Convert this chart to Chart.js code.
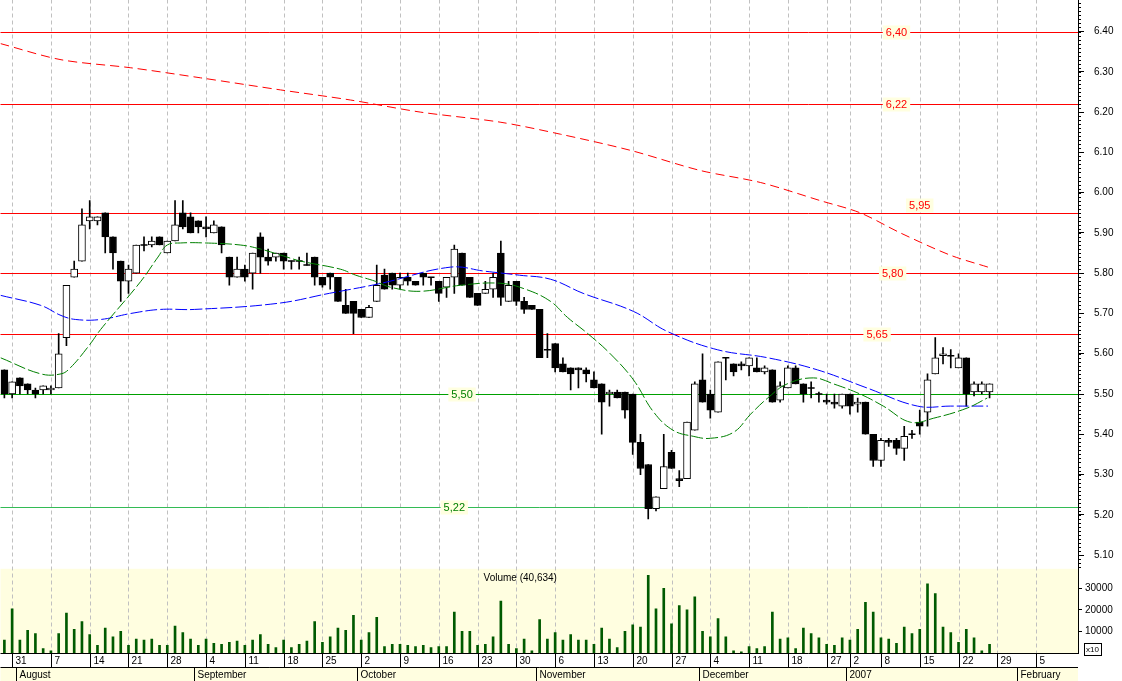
<!DOCTYPE html>
<html><head><meta charset="utf-8">
<script src="https://cdn.jsdelivr.net/npm/chart.js@4.4.1/dist/chart.umd.min.js"></script>
<style>html,body{margin:0;padding:0;background:#fff;overflow:hidden;}#wrap{width:1127px;height:687px;margin-left:-5px;margin-top:-6px;}</style>
</head><body><div id="wrap"><canvas id="c"></canvas></div>
<script>
// ---- data (trading-day index starts at -1 = Jul 28 2006) ----
const firstIndex = -1;
const opens = [5.56,5.50,5.54,5.525,5.51,5.51,5.51,5.515,5.64,5.79,5.83,5.93,5.93,5.95,5.89,5.83,5.78,5.80,5.87,5.87,5.89,5.85,5.88,5.95,5.94,5.93,5.915,5.90,5.915,5.84,5.79,5.81,5.80,5.89,5.84,5.84,5.85,5.83,5.83,5.82,5.84,5.79,5.80,5.79,5.72,5.73,5.71,5.69,5.73,5.795,5.80,5.77,5.79,5.78,5.80,5.79,5.78,5.765,5.79,5.85,5.79,5.75,5.75,5.76,5.85,5.73,5.78,5.73,5.72,5.71,5.61,5.625,5.575,5.565,5.565,5.56,5.535,5.525,5.50,5.505,5.505,5.50,5.38,5.325,5.215,5.265,5.355,5.29,5.29,5.41,5.535,5.50,5.455,5.59,5.575,5.575,5.57,5.565,5.555,5.56,5.485,5.515,5.565,5.525,5.515,5.50,5.485,5.48,5.47,5.50,5.475,5.48,5.40,5.335,5.385,5.385,5.365,5.40,5.43,5.455,5.55,5.595,5.595,5.565,5.59,5.505,5.505,5.505];
const highs = [5.56,5.53,5.54,5.525,5.515,5.52,5.52,5.65,5.77,5.83,5.96,5.98,5.94,5.95,5.89,5.83,5.82,5.87,5.89,5.89,5.89,5.88,5.98,5.98,5.95,5.93,5.94,5.93,5.915,5.84,5.84,5.82,5.85,5.90,5.86,5.85,5.85,5.83,5.84,5.85,5.84,5.79,5.80,5.79,5.76,5.73,5.71,5.72,5.82,5.81,5.80,5.80,5.80,5.78,5.80,5.79,5.78,5.79,5.87,5.85,5.79,5.75,5.78,5.80,5.88,5.78,5.78,5.74,5.72,5.71,5.65,5.625,5.59,5.565,5.565,5.565,5.555,5.525,5.51,5.51,5.505,5.50,5.40,5.325,5.245,5.40,5.36,5.31,5.43,5.53,5.60,5.51,5.58,5.59,5.575,5.58,5.59,5.59,5.57,5.56,5.53,5.57,5.57,5.525,5.53,5.505,5.50,5.50,5.50,5.50,5.49,5.48,5.40,5.39,5.39,5.39,5.42,5.41,5.46,5.55,5.64,5.615,5.61,5.60,5.59,5.53,5.53,5.525];
const lows = [5.49,5.49,5.50,5.50,5.49,5.50,5.50,5.515,5.62,5.79,5.83,5.91,5.92,5.85,5.81,5.73,5.75,5.80,5.855,5.865,5.87,5.85,5.88,5.91,5.90,5.90,5.89,5.90,5.85,5.77,5.79,5.78,5.76,5.80,5.82,5.83,5.81,5.81,5.81,5.82,5.77,5.765,5.76,5.73,5.70,5.65,5.69,5.69,5.73,5.76,5.76,5.76,5.77,5.77,5.77,5.77,5.73,5.74,5.75,5.77,5.74,5.72,5.75,5.74,5.72,5.73,5.72,5.70,5.71,5.59,5.59,5.555,5.555,5.51,5.515,5.53,5.515,5.40,5.47,5.49,5.44,5.35,5.30,5.19,5.21,5.265,5.315,5.27,5.29,5.41,5.48,5.44,5.455,5.535,5.545,5.56,5.545,5.555,5.55,5.48,5.48,5.515,5.525,5.48,5.49,5.48,5.475,5.465,5.465,5.45,5.455,5.40,5.32,5.32,5.37,5.35,5.335,5.39,5.40,5.42,5.55,5.575,5.565,5.565,5.47,5.495,5.50,5.49];
const closes = [5.50,5.53,5.52,5.51,5.50,5.52,5.515,5.60,5.77,5.81,5.92,5.94,5.94,5.89,5.85,5.78,5.81,5.87,5.87,5.88,5.87,5.88,5.92,5.915,5.90,5.915,5.91,5.92,5.87,5.79,5.81,5.79,5.85,5.84,5.83,5.85,5.83,5.83,5.83,5.82,5.79,5.77,5.79,5.73,5.70,5.70,5.69,5.715,5.77,5.76,5.77,5.79,5.78,5.77,5.79,5.79,5.75,5.79,5.86,5.77,5.74,5.72,5.76,5.79,5.74,5.77,5.73,5.71,5.71,5.59,5.61,5.565,5.555,5.55,5.56,5.55,5.515,5.48,5.505,5.49,5.46,5.38,5.315,5.215,5.245,5.32,5.315,5.285,5.43,5.525,5.48,5.46,5.58,5.59,5.555,5.57,5.59,5.555,5.565,5.48,5.52,5.565,5.525,5.50,5.515,5.50,5.48,5.475,5.50,5.47,5.48,5.40,5.335,5.385,5.38,5.365,5.395,5.40,5.42,5.535,5.59,5.60,5.595,5.59,5.50,5.525,5.525,5.525];
const volumes = [6000,20500,6000,10500,9000,2000,1000,9000,18500,11000,14500,8500,3500,11500,7500,10000,3500,6500,6000,6500,3500,3500,12500,9500,6500,3500,6500,4500,4000,5000,5500,3500,6000,8500,4000,2500,6000,2500,4000,5500,14500,5000,7500,11500,10500,17500,6000,9500,16500,3000,4000,4000,3500,3000,3500,2500,3000,3000,19000,10000,10000,3500,4000,7500,24000,4000,2000,6500,1000,15500,6500,9500,6000,8500,6000,6000,4000,11500,6500,2500,10000,13000,12000,36000,20500,30000,13500,22000,20000,26000,10000,7500,16000,7500,1000,500,3000,2000,3000,19000,6500,7000,2000,11500,9000,7000,4000,3500,7000,6000,11000,23500,19000,7000,6500,4500,12000,9000,11000,32000,27500,12000,9500,5000,11000,7000,1000,4000];
// moving averages, read at sparse trading-day positions
const maShortX = [-1.5,3.7,6.3,7.5,9.9,11.4,16.6,18.8,20,21.7,24.9,29.4,32,34.6,37.2,42.3,44.3,46.8,48.8,52.6,57.8,62.9,66.2,69.4,71.6,74.2,77.1,80.1,82.7,85.2,87.8,90,93,95.2,97.4,99.9,103.3,105.9,109.3,112.3,115.8,118.8,123.1,125.7];
const maShortY = [5.59,5.55,5.55,5.565,5.62,5.66,5.78,5.84,5.87,5.875,5.875,5.87,5.86,5.845,5.83,5.81,5.795,5.78,5.765,5.755,5.77,5.775,5.76,5.73,5.69,5.65,5.60,5.535,5.455,5.41,5.395,5.39,5.405,5.45,5.49,5.525,5.54,5.525,5.50,5.47,5.43,5.44,5.465,5.49];
const maMidX = [-1.5,3.7,6.3,8.2,11.4,15.3,19.1,23.5,34.2,40.9,47.6,56.5,60.9,65.4,69.4,73.6,80.1,84.5,90.9,97.4,103.8,110.2,116.7,121,125.8];
const maMidY = [5.745,5.72,5.695,5.685,5.685,5.70,5.71,5.71,5.725,5.75,5.775,5.815,5.805,5.795,5.785,5.75,5.705,5.655,5.61,5.59,5.56,5.515,5.47,5.47,5.47];
const maLongX = [-1.5,6.3,15.3,24.3,34.6,43.6,52.6,62.9,70.7,79.7,88.7,96.5,104.2,109.3,114.5,120.9,125.8];
const maLongY = [6.37,6.33,6.31,6.285,6.255,6.23,6.20,6.175,6.145,6.105,6.055,6.025,5.98,5.95,5.90,5.845,5.815];
const levels = [6.40,6.22,5.95,5.80,5.65,5.50,5.22];
const levelLabels = ['6,40','6,22','5,95','5,80','5,65','5,50','5,22'];
const levelColors = ['#ff0000','#ff0000','#ff0000','#ff0000','#ff0000','#00a000','#33bb55'];
const levelTextColors = ['#ff0000','#ff0000','#ff0000','#ff0000','#ff0000','#008000','#008000'];
const levelLabelAt = [114,114,117,113.5,111.5,58,57];
const levelLabelLift = [0,0,8,0,0,0,0];
const weekTickIdx = [0,5,10,15,20,25,30,35,40,45,50,55,60,65,70,75,80,85,90,95,100,105,108,112,117,122,127,132];
const weekTickLabels = ['31','7','14','21','28','4','11','18','25','2','9','16','23','30','6','13','20','27','4','11','18','27','2','8','15','22','29','5'];
const monthIdx = [1,24,45,68,89,108,130];
const monthLabels = ['August','September','October','November','December','2007','February'];
const priceTicksMin = 5.10, priceTicksMax = 6.45;
const volTicks = [10000,20000,30000];
const volumeTitle = 'Volume (40,634)';

const idx = opens.map((_,k)=>firstIndex+k);
const wick = idx.map((x,k)=>({x, y:[lows[k],highs[k]]}));
const body = idx.map((x,k)=>({x, y:[opens[k],closes[k]]}));
const bodyColor = idx.map((_,k)=>closes[k]>opens[k]?'#ffffff':'#000000');
const doji = idx.map((x,k)=>({x, y:opens[k]})).filter((p,k)=>opens[k]===closes[k]);
const vol = idx.map((x,k)=>({x, y:volumes[k]}));
const line = (X,Y)=>X.map((x,k)=>({x, y:Y[k]}));

const FONT = '"Liberation Sans", Arial, sans-serif';
const H = 687;
const deco = {
  id:'deco',
  beforeDatasetsDraw(ch){
    const {ctx, chartArea:a, scales:{x,y,yv}} = ch;
    ctx.save();
    ctx.fillStyle='#fffee0';
    ctx.fillRect(a.left, yv.top, a.right-a.left, yv.bottom-yv.top);
    ctx.strokeStyle='#c0c0c0'; ctx.lineWidth=1; ctx.setLineDash([4,3]);
    weekTickIdx.forEach(v=>{const px=Math.round(x.getPixelForValue(v))+0.5;ctx.beginPath();ctx.moveTo(px,a.top);ctx.lineTo(px,a.bottom);ctx.stroke();});
    ctx.setLineDash([]);
    levels.forEach((lv,k)=>{
      const py=Math.round(y.getPixelForValue(lv))+0.5;
      ctx.strokeStyle=levelColors[k];ctx.beginPath();ctx.moveTo(a.left,py);ctx.lineTo(a.right,py);ctx.stroke();
      ctx.font='11px '+FONT; const t=levelLabels[k]; const w=ctx.measureText(t).width;
      const px=x.getPixelForValue(levelLabelAt[k]); const ty=py-levelLabelLift[k];
      ctx.fillStyle='#ffffe0';ctx.fillRect(px-w/2-3,ty-7,w+6,14);
      ctx.fillStyle=levelTextColors[k];ctx.textAlign='center';ctx.textBaseline='middle';ctx.fillText(t,px,ty);
    });
    ctx.restore();
  },
  afterDraw(ch){
    const {ctx, chartArea:a, scales:{x,y,yv}} = ch;
    ctx.save();
    ctx.strokeStyle='#000'; ctx.lineWidth=1;
    for(let v=Math.ceil(y.min*100);v<=Math.floor(y.max*100);v++){
      const py=Math.round(y.getPixelForValue(v/100))+0.5;
      ctx.beginPath();ctx.moveTo(a.right,py);ctx.lineTo(a.right+3,py);ctx.stroke();
    }
    ctx.font='10px '+FONT; ctx.fillStyle='#000'; ctx.textAlign='center'; ctx.textBaseline='top';
    ctx.fillText(volumeTitle, x.getPixelForValue(65.5), yv.top+4);
    const b=a.bottom;
    ctx.fillStyle='#fffee0'; ctx.fillRect(a.left,b+14,a.right-a.left,H-b-14);
    ctx.beginPath(); ctx.moveTo(a.left,b+0.5); ctx.lineTo(a.right,b+0.5); ctx.moveTo(a.left,b+14.5); ctx.lineTo(a.right,b+14.5); ctx.stroke();
    ctx.fillStyle='#000'; ctx.textAlign='left'; ctx.textBaseline='middle';
    weekTickIdx.forEach((v,k)=>{const px=Math.round(x.getPixelForValue(v))+0.5;
      ctx.beginPath();ctx.moveTo(px,b);ctx.lineTo(px,b+14);ctx.stroke();
      ctx.fillText(weekTickLabels[k],px+3,b+8);});
    monthIdx.forEach((v,k)=>{const px=Math.round(x.getPixelForValue(v-0.5))+0.5;
      ctx.beginPath();ctx.moveTo(px,b+14);ctx.lineTo(px,H);ctx.stroke();
      ctx.fillText(monthLabels[k],px+3,b+22);});
    ctx.strokeRect(a.right+6.5, yv.bottom-9.5, 17, 12);
    ctx.font='8px '+FONT; ctx.fillText('x10', a.right+8, yv.bottom-3);
    ctx.restore();
  }
};

new Chart(document.getElementById('c'),{
  data:{datasets:[
    {type:'bar',data:wick,yAxisID:'y',backgroundColor:'#000',barThickness:1,grouped:false,order:5},
    {type:'bar',data:body,yAxisID:'y',backgroundColor:bodyColor,borderColor:'#000',borderWidth:1,borderSkipped:false,barThickness:7,grouped:false,order:4},
    {type:'scatter',data:doji,yAxisID:'y',pointStyle:'line',radius:3.5,borderColor:'#000',borderWidth:1.5,order:3},
    {type:'line',data:line(maLongX,maLongY),yAxisID:'y',borderColor:'#ff0000',borderWidth:1,borderDash:[9,5],pointRadius:0,tension:0.3,order:2},
    {type:'line',data:line(maMidX,maMidY),yAxisID:'y',borderColor:'#0000ff',borderWidth:1,borderDash:[12,3],pointRadius:0,tension:0.4,order:1},
    {type:'line',data:line(maShortX,maShortY),yAxisID:'y',borderColor:'#008000',borderWidth:1,borderDash:[12,3],pointRadius:0,tension:0.4,order:0},
    {type:'bar',data:vol,yAxisID:'yv',backgroundColor:'#005a00',barThickness:2,grouped:false,order:6}
  ]},
  options:{
    responsive:true,maintainAspectRatio:false,animation:false,
    layout:{padding:{left:0,right:0,top:0,bottom:28}},
    plugins:{legend:{display:false},tooltip:{enabled:false}},
    scales:{
      x:{type:'linear',min:-1.5,max:137.4,offset:false,display:false},
      y:{type:'linear',position:'right',stack:'s',stackWeight:568,min:5.066,max:6.4795,
         afterFit(s){s.width=44;s.paddingTop=0;s.paddingBottom=0;},
         afterBuildTicks(s){const t=[];for(let v=Math.round(priceTicksMin*100);v<=Math.round(priceTicksMax*100);v+=5)t.push({value:v/100});s.ticks=t;},
         ticks:{font:{size:10,family:FONT},color:'#000',padding:10,callback:v=>v.toFixed(2)},
         grid:{drawOnChartArea:false,tickLength:6,color:'#000'},border:{color:'#000'}},
      yv:{type:'linear',position:'right',stack:'s',stackWeight:84,min:0,max:39000,offset:false,
         afterFit(s){s.width=44;s.paddingTop=0;s.paddingBottom=0;},
         afterBuildTicks(s){s.ticks=volTicks.map(v=>({value:v}));},
         ticks:{font:{size:10,family:FONT},color:'#000',padding:3,callback:v=>String(v)},
         grid:{drawOnChartArea:false,tickLength:4,color:'#000'},border:{color:'#000'}}
    }
  },
  plugins:[deco]
});
</script></body></html>
